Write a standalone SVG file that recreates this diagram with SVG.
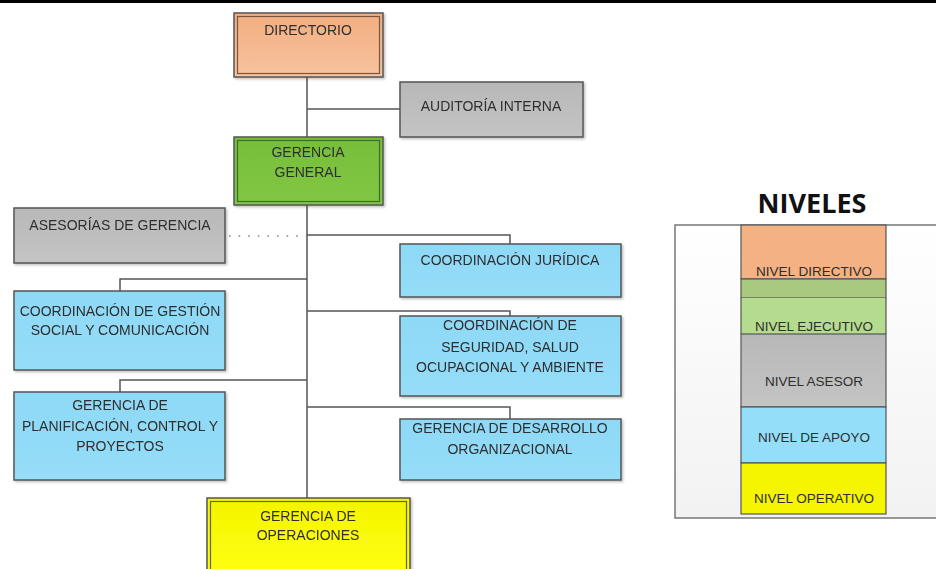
<svg xmlns="http://www.w3.org/2000/svg" width="936" height="569" viewBox="0 0 936 569">
  <style>
    .t { font-family: "Liberation Sans", Arial, sans-serif; font-size: 14px; fill: #2e2e2e; text-anchor: middle; }
    .lt { font-size: 13.5px; }
    .box { stroke: #555; stroke-width: 1.5; }
    .inner { fill: none; stroke-width: 1.2; }
    .link { fill: none; stroke: #555; stroke-width: 1.5; }
    .lvl { stroke: #555; stroke-width: 1.2; }
  </style>
  <defs>
    <linearGradient id="gOrange" x1="0" y1="0" x2="0" y2="1">
      <stop offset="0" stop-color="#F2AE80"/><stop offset="1" stop-color="#F7C39E"/>
    </linearGradient>
    <linearGradient id="gGreen" x1="0" y1="0" x2="0" y2="1">
      <stop offset="0" stop-color="#76BE3A"/><stop offset="1" stop-color="#82C744"/>
    </linearGradient>
    <linearGradient id="gGray" x1="0" y1="0" x2="0" y2="1">
      <stop offset="0" stop-color="#B8B8B8"/><stop offset="1" stop-color="#C4C4C4"/>
    </linearGradient>
    <linearGradient id="gBlue" x1="0" y1="0" x2="0" y2="1">
      <stop offset="0" stop-color="#8ED9F6"/><stop offset="1" stop-color="#95DDF9"/>
    </linearGradient>
    <linearGradient id="gYellow" x1="0" y1="0" x2="0" y2="1">
      <stop offset="0" stop-color="#F4F400"/><stop offset="1" stop-color="#FFFF10"/>
    </linearGradient>
    <linearGradient id="gPanel" x1="0" y1="0" x2="0" y2="1">
      <stop offset="0" stop-color="#FFFFFF"/><stop offset="1" stop-color="#F2F2F2"/>
    </linearGradient>
    <filter id="sh" x="-5%" y="-5%" width="115%" height="120%">
      <feDropShadow dx="1.5" dy="1.5" stdDeviation="1" flood-color="#000" flood-opacity="0.25"/>
    </filter>
  </defs>

  <rect x="0" y="0" width="936" height="569" fill="#FFFFFF"/>
  <rect x="0" y="0" width="936" height="3" fill="#000"/>

  <!-- connectors -->
  <g id="connectors">
    <path class="link" d="M307 77 V498"/>
    <path class="link" d="M307 109 H400"/>
    <path class="link" d="M307 235 H510 V244"/>
    <path class="link" d="M307 311 H510 V316"/>
    <path class="link" d="M307 407 H510 V419"/>
    <path class="link" d="M307 279 H120 V291"/>
    <path class="link" d="M307 380 H120 V392"/>
    <path d="M229 236 H306" fill="none" stroke="#888" stroke-width="1.6" stroke-dasharray="1.6 8"/>
  </g>

  <!-- org chart nodes -->
  <g id="directorio" filter="url(#sh)">
    <rect class="box" x="234" y="13" width="149" height="64" fill="url(#gOrange)" stroke="#6B4A38"/>
    <rect class="inner" x="237.5" y="16.5" width="142" height="57" stroke="#7A5540"/>
    <text class="t" x="308" y="35">DIRECTORIO</text>
  </g>

  <g id="auditoria" filter="url(#sh)">
    <rect class="box" x="400" y="82" width="183" height="55" fill="url(#gGray)"/>
    <text class="t" x="491" y="111">AUDITORÍA INTERNA</text>
  </g>

  <g id="gerencia-general" filter="url(#sh)">
    <rect class="box" x="234" y="137" width="149" height="68" fill="url(#gGreen)" stroke="#2E5E1E"/>
    <rect class="inner" x="237.5" y="140.5" width="142" height="61" stroke="#3A6E25"/>
    <text class="t" x="308" y="157">GERENCIA</text>
    <text class="t" x="308" y="177">GENERAL</text>
  </g>

  <g id="asesorias" filter="url(#sh)">
    <rect class="box" x="14" y="208" width="211" height="55" fill="url(#gGray)"/>
    <text class="t" x="120" y="230">ASESORÍAS DE GERENCIA</text>
  </g>

  <g id="coord-juridica" filter="url(#sh)">
    <rect class="box" x="400" y="244" width="221" height="53" fill="url(#gBlue)"/>
    <text class="t" x="510" y="265">COORDINACIÓN JURÍDICA</text>
  </g>

  <g id="coord-gestion-social" filter="url(#sh)">
    <rect class="box" x="14" y="291" width="211" height="79" fill="url(#gBlue)"/>
    <text class="t" x="120" y="316">COORDINACIÓN DE GESTIÓN</text>
    <text class="t" x="120" y="335">SOCIAL Y COMUNICACIÓN</text>
  </g>

  <g id="coord-seguridad" filter="url(#sh)">
    <rect class="box" x="400" y="316" width="221" height="80" fill="url(#gBlue)"/>
    <text class="t" x="510" y="330">COORDINACIÓN DE</text>
    <text class="t" x="510" y="352">SEGURIDAD, SALUD</text>
    <text class="t" x="510" y="372">OCUPACIONAL Y AMBIENTE</text>
  </g>

  <g id="gerencia-planificacion" filter="url(#sh)">
    <rect class="box" x="14" y="392" width="211" height="88" fill="url(#gBlue)"/>
    <text class="t" x="120" y="410">GERENCIA DE</text>
    <text class="t" x="120" y="431">PLANIFICACIÓN,  CONTROL Y</text>
    <text class="t" x="120" y="451">PROYECTOS</text>
  </g>

  <g id="gerencia-desarrollo" filter="url(#sh)">
    <rect class="box" x="400" y="419" width="221" height="61" fill="url(#gBlue)"/>
    <text class="t" x="510" y="433">GERENCIA DE DESARROLLO</text>
    <text class="t" x="510" y="454">ORGANIZACIONAL</text>
  </g>

  <g id="gerencia-operaciones" filter="url(#sh)">
    <rect class="box" x="207" y="498" width="203" height="80" fill="url(#gYellow)" stroke="#55551A"/>
    <rect class="inner" x="210.5" y="501.5" width="196" height="73" stroke="#66661E"/>
    <text class="t" x="308" y="521">GERENCIA DE</text>
    <text class="t" x="308" y="540">OPERACIONES</text>
  </g>

  <!-- levels legend -->
  <g id="niveles">
    <text x="812" y="213" font-family="'Open Sans', 'Liberation Sans', sans-serif" font-size="27" font-weight="bold" fill="#111" text-anchor="middle">NIVELES</text>
    <rect x="675" y="225" width="270" height="293" fill="url(#gPanel)" stroke="#777" stroke-width="1.5"/>
    <rect class="lvl" x="741" y="225" width="145" height="54" fill="#F4B183"/>
    <rect class="lvl" x="741" y="279" width="145" height="19" fill="#A8C97E"/>
    <rect x="741" y="298" width="145" height="36" fill="#B4DB8E" stroke="none"/>
    <path d="M741 298 V334 M886 298 V334" class="lvl"/>
    <rect class="lvl" x="741" y="334" width="145" height="73" fill="url(#gGray)"/>
    <rect class="lvl" x="741" y="407" width="145" height="56" fill="#94DEFA"/>
    <rect class="lvl" x="741" y="463" width="145" height="51" fill="#F5F500"/>
    <text class="t lt" x="814" y="276">NIVEL DIRECTIVO</text>
    <text class="t lt" x="814" y="331">NIVEL EJECUTIVO</text>
    <text class="t lt" x="814" y="386">NIVEL ASESOR</text>
    <text class="t lt" x="814" y="442">NIVEL DE APOYO</text>
    <text class="t lt" x="814" y="503">NIVEL OPERATIVO</text>
  </g>
</svg>
